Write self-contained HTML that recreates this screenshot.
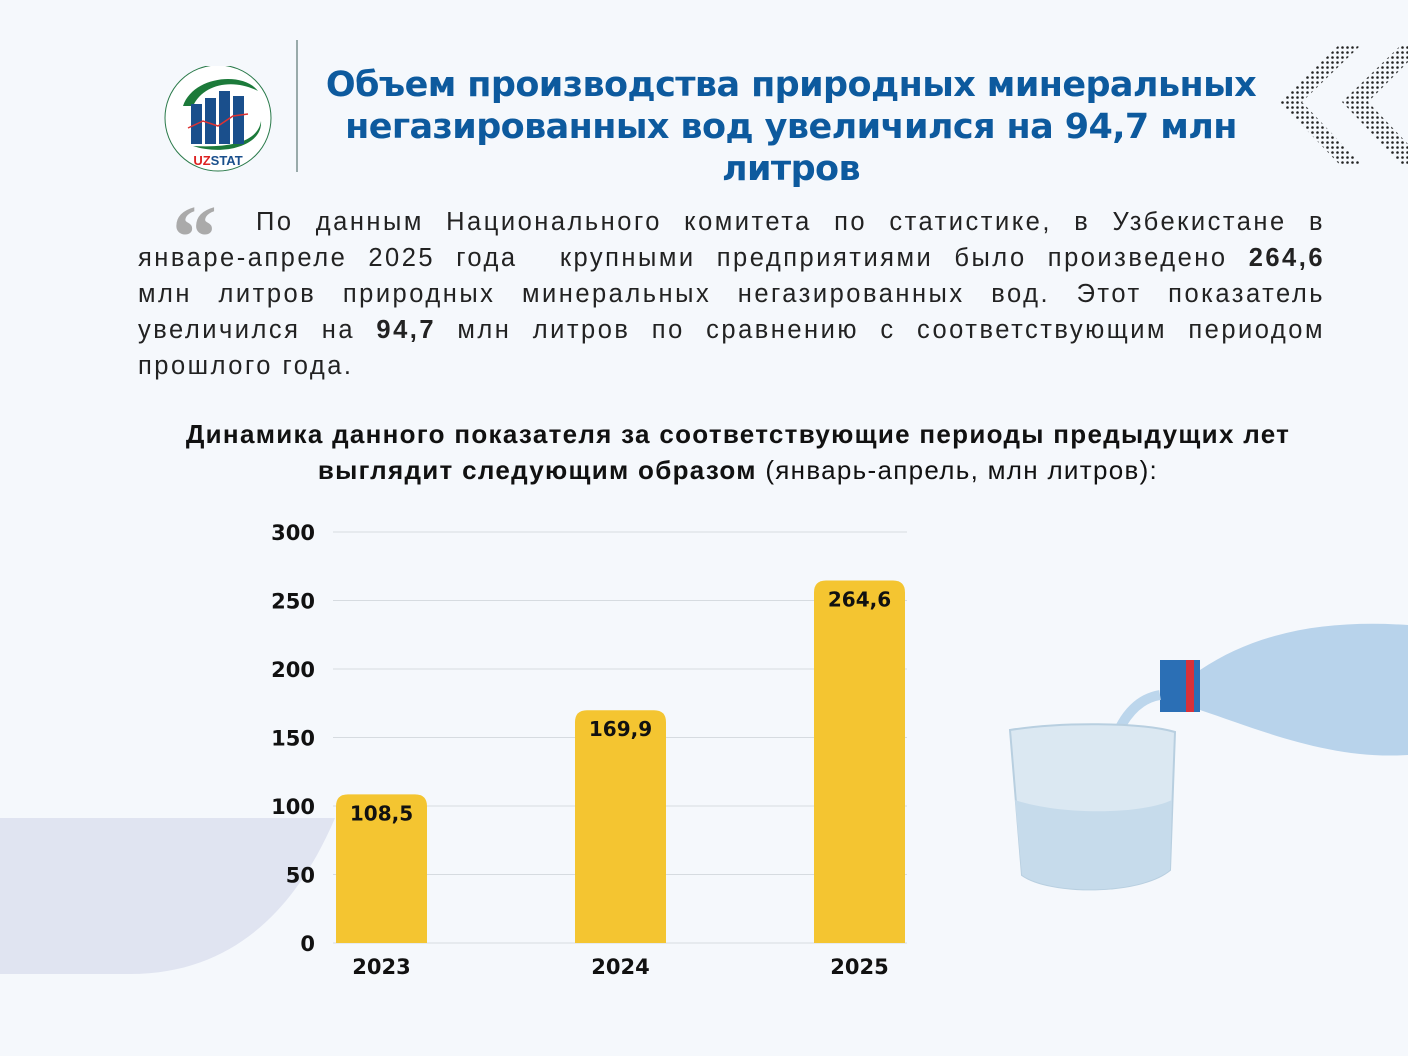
<!DOCTYPE html>
<html><head><meta charset="utf-8"><style>
body{margin:0;width:1408px;height:1056px;background:#f5f8fc;position:relative;overflow:hidden;font-family:"Liberation Sans",sans-serif}
.abs{position:absolute}
#title{left:296px;top:64px;width:990px;text-align:center;color:#0d5a9e;font-weight:bold;font-size:35px;line-height:42px;font-family:"DejaVu Sans","Liberation Sans",sans-serif;letter-spacing:-0.6px}
#para{left:138px;top:204px;width:1187px;font-size:25.5px;line-height:36px;color:#222;letter-spacing:2.5px}
#para div{text-align:justify;text-align-last:justify;white-space:nowrap;height:36px}
#para div.last{text-align-last:left}
#sub{left:130px;top:416px;width:1216px;text-align:center;font-size:26px;line-height:36px;color:#111;letter-spacing:1.3px}
</style></head><body>
<svg class="abs" style="left:0;top:0" width="1408" height="1056">
<path d="M0 818 H335 C300 900 240 974 130 974 H0 Z" fill="#e0e4f1"/>
<line x1="297" y1="40" x2="297" y2="172" stroke="#9aa" stroke-width="2"/>
</svg>
<svg class="abs" style="left:163px;top:66px" width="110" height="110">
<circle cx="55" cy="52" r="53" fill="#fff" stroke="#2a7a4a" stroke-width="1"/>
<path d="M20 40 C30 10 80 5 95 25 C70 12 40 18 30 40 Z" fill="#1c7a3a"/>
<path d="M30 80 C60 90 100 80 98 55 C95 75 70 82 30 80 Z" fill="#1c7a3a"/>
<rect x="28" y="38" width="11" height="40" fill="#1a4f8c"/><rect x="42" y="32" width="11" height="46" fill="#1a4f8c"/>
<rect x="56" y="25" width="11" height="53" fill="#1a4f8c"/><rect x="70" y="30" width="11" height="48" fill="#1a4f8c"/>
<polyline points="25,62 40,55 55,60 70,50 85,48" fill="none" stroke="#d33" stroke-width="1.5"/>
<text x="55" y="99" text-anchor="middle" font-size="13" font-weight="bold" fill="#1a4f8c" font-family="Liberation Sans"><tspan fill="#d22">UZ</tspan>STAT</text>
</svg>
<svg class="abs" style="left:1280px;top:40px" width="128" height="135">
<defs><pattern id="dots" width="5" height="5" patternUnits="userSpaceOnUse"><circle cx="2.5" cy="2.5" r="1.3" fill="#222"/></pattern></defs>
<g fill="url(#dots)">
<path d="M0 62 L60 4 L82 4 L22 62 L82 125 L60 125 Z"/><path d="M62 62 L122 4 L128 4 L128 22 L88 62 L128 104 L128 125 L122 125 Z"/>
</g></svg>
<div class="abs" id="title">Объем производства природных минеральных негазированных вод увеличился на 94,7 млн литров</div>
<div class="abs" style="left:172px;top:186px;font-size:90px;color:#aaa;font-weight:bold;font-family:'Liberation Serif',serif">“</div>
<div class="abs" id="para">
<div style="padding-left:118px">По данным Национального комитета по статистике, в Узбекистане в</div>
<div>январе-апреле 2025 года &nbsp;крупными предприятиями было произведено <b>264,6</b></div>
<div>млн литров природных минеральных негазированных вод. Этот показатель</div>
<div>увеличился на <b>94,7</b> млн литров по сравнению с соответствующим периодом</div>
<div class="last">прошлого года.</div>
</div>
<div class="abs" id="sub"><b>Динамика данного показателя за соответствующие периоды предыдущих лет<br>выглядит следующим образом</b> (январь-апрель, млн литров):</div>
<svg class="abs" style="left:1000px;top:600px" width="408" height="300">
<path d="M200 70 C260 30 330 20 408 25 V155 C330 160 260 130 200 110 Z" fill="#a9c9e6" opacity="0.8"/>
<rect x="160" y="60" width="40" height="52" fill="#2b6fb5"/><rect x="186" y="60" width="8" height="52" fill="#d8313a"/>
<path d="M160 95 C130 100 110 130 100 200" stroke="#bcd6ec" stroke-width="10" fill="none"/>
<path d="M10 130 C60 122 140 122 175 132 L170 270 C140 295 50 295 22 275 Z" fill="#dbe8f2" stroke="#b8cfe0" stroke-width="2"/>
<path d="M15 200 C60 215 140 215 172 200 L170 270 C140 295 50 295 22 275 Z" fill="#c6dbeb"/>
</svg>
<svg class="abs" id="chart" style="left:0;top:0" width="1408" height="1056"></svg>
<script>
const categories=["2023","2024","2025"];
const values=[108.5,169.9,264.6];
const labels=["108,5","169,9","264,6"];
const ticks=[0,50,100,150,200,250,300];
const NS="http://www.w3.org/2000/svg";
const svg=document.getElementById('chart');
const y=v=>943-v*(411/300);
const x=i=>336+i*239;
function mk(t,a){const e=document.createElementNS(NS,t);for(const k in a)e.setAttribute(k,a[k]);svg.appendChild(e);return e;}
ticks.forEach(t=>{
 const l=mk('line',{x1:333,x2:907,y1:y(t),y2:y(t),stroke:'#d6dbe0','stroke-width':1});
 
 
 const tx=mk('text',{x:315,y:y(t)+8,'text-anchor':'end','font-size':21,'font-weight':'bold','font-family':'DejaVu Sans, Liberation Sans, sans-serif',fill:'#111'});
 tx.textContent=t;
 
 
});
values.forEach((v,i)=>{
 const top=y(v),w=91,r=12;
 const p=mk('path',{d:`M${x(i)} 943 V${top+r} Q${x(i)} ${top} ${x(i)+r} ${top} H${x(i)+w-r} Q${x(i)+w} ${top} ${x(i)+w} ${top+r} V943 Z`,fill:'#f4c531'});
 
 
 const vl=mk('text',{x:x(i)+w/2,y:top+26,'text-anchor':'middle','font-size':20,'font-weight':'bold','font-family':'DejaVu Sans, Liberation Sans, sans-serif',fill:'#111'});
 vl.textContent=labels[i];
 
 
 const cl=mk('text',{x:x(i)+w/2,y:974,'text-anchor':'middle','font-size':21,'font-weight':'bold','font-family':'DejaVu Sans, Liberation Sans, sans-serif',fill:'#111'});
 cl.textContent=categories[i];
 
 
});
</script>
</body></html>
